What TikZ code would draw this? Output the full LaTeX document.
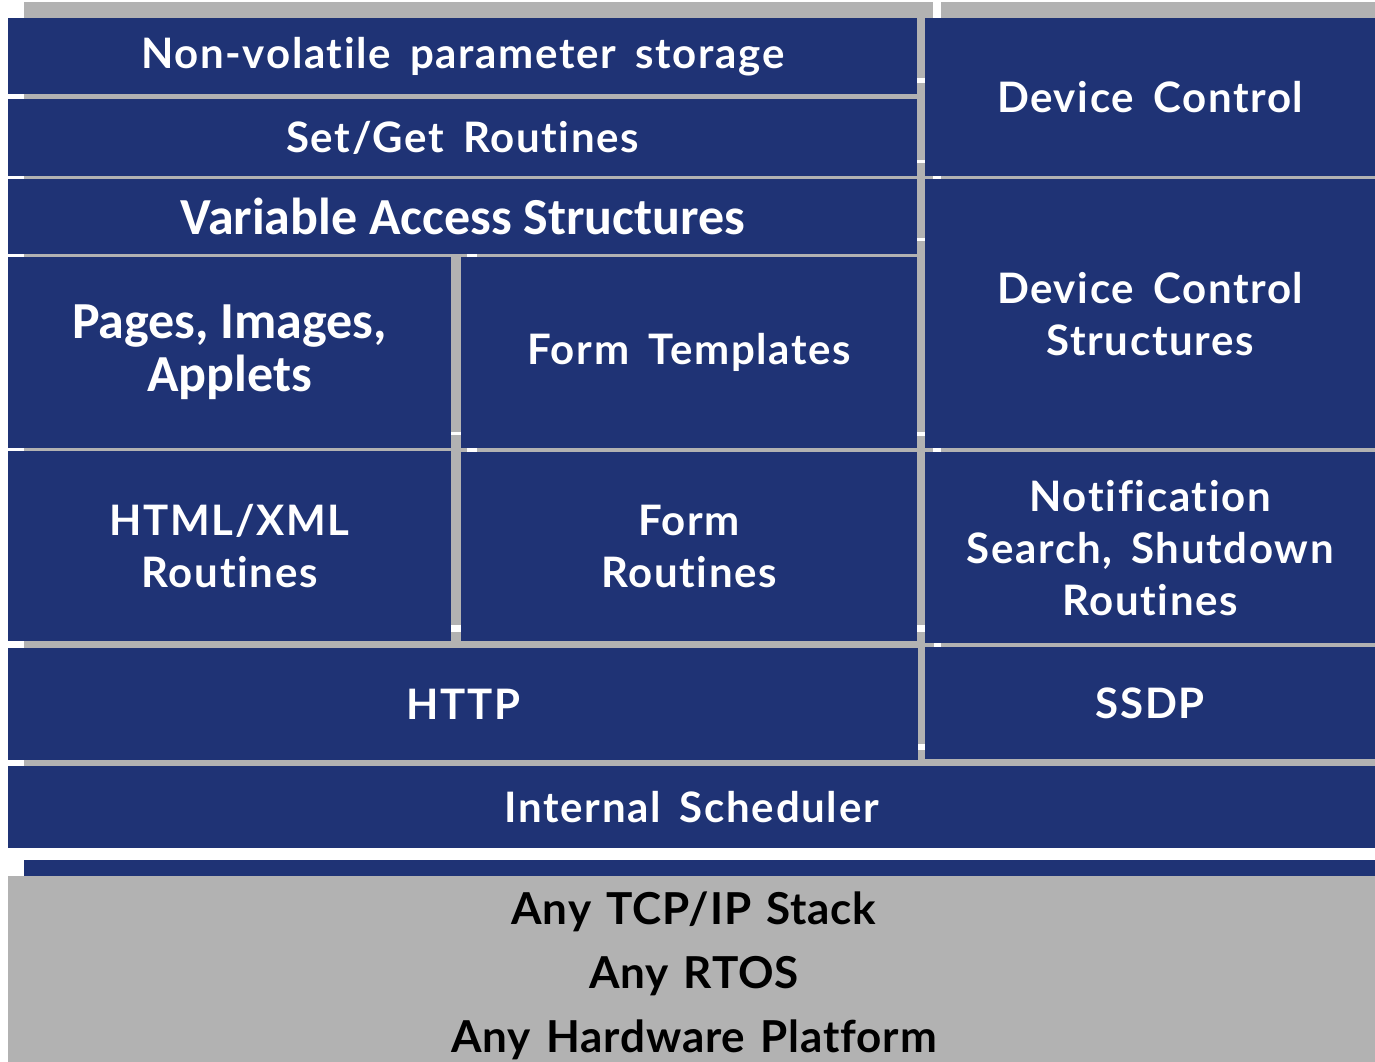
\documentclass[tikz,border=0pt]{standalone}
\usepackage{fontspec}
\usetikzlibrary{shadows}
\newfontfamily\gillf[LetterSpace=4,WordSpace=1.6,Ligatures={NoCommon,NoRare}]{Lato}
\newfontfamily\gillb[LetterSpace=2,WordSpace=1.3,Ligatures={NoCommon,NoRare}]{Lato}
\newfontfamily\calf{Carlito}
\definecolor{navyc}{RGB}{31,51,117}
\definecolor{grayc}{RGB}{178,178,178}
\tikzset{
  blk/.style={fill=navyc, text=white, inner sep=0pt, anchor=north west, align=center,
    font=\gillf\bfseries\fontsize{42}{52}\selectfont,
    general shadow={fill=grayc, shadow xshift=16pt, shadow yshift=16pt}},
  calb/.style={font=\calf\bfseries\fontsize{52}{53}\selectfont},
  basebox/.style={fill=grayc, inner sep=0pt, anchor=north west,
    general shadow={fill=navyc, shadow xshift=16pt, shadow yshift=16pt}},
  basetxt/.style={text=black, align=center, inner sep=0pt,
    font=\gillb\bfseries\fontsize{44}{64}\selectfont}
}
\begin{document}
\begin{tikzpicture}[x=1pt,y=1pt]
\useasboundingbox[fill=white] (0,0) rectangle (1375,-1062);
% base platform
\node[basebox, minimum width=1367pt, minimum height=186pt] (base) at (8,-876) {};
\node[basetxt] (basetext) at (694,-976) {Any TCP/IP Stack\\Any RTOS\\Any Hardware Platform};
% scheduler
\node[blk, minimum width=1367pt, minimum height=82pt] (sched) at (8,-766) {Internal Scheduler};
% left column, bottom to top
\node[blk, minimum width=910pt, minimum height=112pt] (http) at (8,-648) {HTTP};
\node[blk, minimum width=443pt, minimum height=190pt] (html) at (8,-451) {HTML/XML\\Routines};
\node[blk, minimum width=456pt, minimum height=189pt] (formr) at (461,-452) {Form\\Routines};
\node[blk, calb, minimum width=443pt, minimum height=191pt] (pages) at (8,-257) {Pages, Images,\\Applets};
\node[blk, minimum width=456pt, minimum height=191pt] (formt) at (461,-257) {Form Templates};
\node[blk, calb, minimum width=909pt, minimum height=75pt] (vas) at (8,-179) {Variable Access Structures};
\node[blk, minimum width=909pt, minimum height=77pt] (setget) at (8,-99) {Set/Get Routines};
\node[blk, minimum width=909pt, minimum height=76pt] (nvps) at (8,-18) {Non-volatile parameter storage};
% right column, bottom to top
\node[blk, minimum width=450pt, minimum height=112pt] (ssdp) at (925,-647) {SSDP};
\node[blk, minimum width=450pt, minimum height=191pt] (notif) at (925,-452) {Notification\\Search, Shutdown\\Routines};
\node[blk, minimum width=450pt, minimum height=269pt] (dcs) at (925,-179) {Device Control\\Structures};
\node[blk, minimum width=450pt, minimum height=158pt] (dc) at (925,-18) {Device Control};
\end{tikzpicture}
\end{document}
